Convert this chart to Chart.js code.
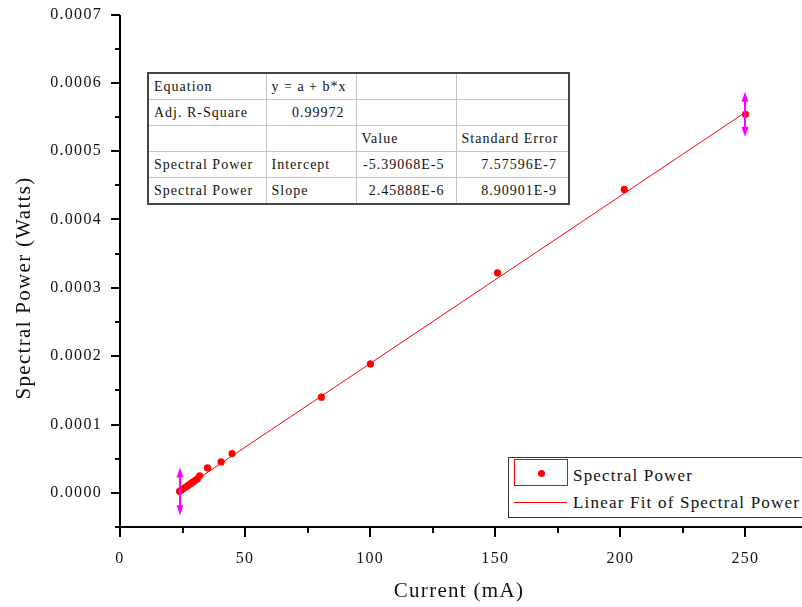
<!DOCTYPE html>
<html>
<head>
<meta charset="utf-8">
<script src="https://cdn.jsdelivr.net/npm/chart.js@4.4.0/dist/chart.umd.min.js"></script>
<style>
html,body{margin:0;padding:0;background:#fff;overflow:hidden;}
#wrap{position:relative;width:802px;height:607px;overflow:hidden;background:#fff;}
#chart{position:absolute;left:0;top:0;}
#fitTable{position:absolute;left:147px;top:72px;width:421px;table-layout:fixed;border-collapse:collapse;border:2px solid #444;font-family:'Liberation Serif',serif;font-size:14px;letter-spacing:1px;color:#111;background:#fff;}
#fitTable td{border:1px solid #c4c4c4;height:25px;padding:0 5px;white-space:nowrap;overflow:hidden;}
#fitTable td.r{text-align:right;padding-right:11px;}
#legend{position:absolute;left:508px;top:457px;width:310px;height:61px;box-sizing:border-box;border:1px solid #333;background:#fff;font-family:'Liberation Serif',serif;font-size:17px;letter-spacing:1.2px;color:#111;}
#legend .frame{position:absolute;left:5px;top:1px;width:54px;height:27px;box-sizing:border-box;border:1px solid #ff0000;}
#legend .dot{position:absolute;left:29px;top:12px;width:7px;height:7px;border-radius:50%;background:#ff0000;}
#legend .line{position:absolute;left:5px;top:44px;width:53px;height:1px;background:#ff0000;}
#legend .t1{position:absolute;left:64px;top:6px;line-height:24px;}
#legend .t2{position:absolute;left:64px;top:33px;line-height:24px;}
</style>
</head>
<body>
<div id="wrap">
<canvas id="chart" width="802" height="607"></canvas>
<table id="fitTable"><colgroup><col style="width:118px"><col style="width:90px"><col style="width:100px"><col style="width:113px"></colgroup><tbody id="tbody"></tbody></table>
<div id="legend"><div class="frame"></div><div class="dot"></div><div class="line"></div><div class="t1" id="lg1"></div><div class="t2" id="lg2"></div></div>
</div>
<script>
// ---- data ----
const seriesName = 'Spectral Power';
const fitName = 'Linear Fit of Spectral Power';
const xTitle = 'Current (mA)';
const yTitle = 'Spectral Power (Watts)';
const currentMA = [23.8, 24.6, 25.5, 26.4, 27.3, 28.2, 29.1, 30.0, 30.9, 31.8, 35.0, 40.4, 44.8, 80.5, 100.1, 150.9, 201.6, 250.0];
const powerW   = [2.2e-6, 4.3e-6, 6.6e-6, 8.9e-6, 1.11e-5, 1.34e-5, 1.57e-5, 1.80e-5, 2.03e-5, 2.50e-5, 3.64e-5, 4.52e-5, 5.75e-5, 1.40e-4, 1.886e-4, 3.22e-4, 4.44e-4, 5.54e-4];
const fitCurrent = [23.8, 250.0];
const fitPower   = [2.5e-6, 5.57e-4];
const errorIndex = [0, 17];
const errorHalf  = [3.5e-5, 3.3e-5];
const xMajorTicks = [0, 50, 100, 150, 200, 250];
const xTickLabels = ['0', '50', '100', '150', '200', '250'];
const xMinorTicks = [25, 75, 125, 175, 225];
const yMajorTicks = [0, 0.0001, 0.0002, 0.0003, 0.0004, 0.0005, 0.0006, 0.0007];
const yTickLabels = ['0.0000', '0.0001', '0.0002', '0.0003', '0.0004', '0.0005', '0.0006', '0.0007'];
const yMinorTicks = [-0.00005, 0.00005, 0.00015, 0.00025, 0.00035, 0.00045, 0.00055, 0.00065];
const tableRows = [
  [['Equation',''], ['y = a + b*x',''], ['',''], ['','']],
  [['Adj. R-Square',''], ['0.99972','r'], ['',''], ['','']],
  [['',''], ['',''], ['Value',''], ['Standard Error','']],
  [['Spectral Power',''], ['Intercept',''], ['-5.39068E-5','r'], ['7.57596E-7','r']],
  [['Spectral Power',''], ['Slope',''], ['2.45888E-6','r'], ['8.90901E-9','r']]
];

// ---- table & legend text ----
const tb = document.getElementById('tbody');
tableRows.forEach(row => {
  const tr = document.createElement('tr');
  row.forEach(([txt, cls]) => {
    const td = document.createElement('td');
    td.textContent = txt;
    if (cls) td.className = cls;
    tr.appendChild(td);
  });
  tb.appendChild(tr);
});
document.getElementById('lg1').textContent = seriesName;
document.getElementById('lg2').textContent = fitName;

const FONT = "'Liberation Serif', 'Times New Roman', serif";
const SPACING = '1.3px';

const axesPlugin = {
  id: 'axesPlugin',
  beforeLayout(chart) { chart.ctx.letterSpacing = SPACING; },
  beforeDraw(chart) { chart.ctx.letterSpacing = SPACING; },
  afterDatasetsDraw(chart) {
    const {ctx, scales: {x, y}} = chart;
    ctx.save();
    ctx.strokeStyle = '#ff00ff';
    ctx.fillStyle = '#ff00ff';
    ctx.lineWidth = 2;
    errorIndex.forEach((idx, k) => {
      const px = Math.round(x.getPixelForValue(currentMA[idx]));
      const pTop = y.getPixelForValue(powerW[idx] + errorHalf[k]);
      const pBot = y.getPixelForValue(powerW[idx] - errorHalf[k]);
      ctx.beginPath();
      ctx.moveTo(px, pTop + 4); ctx.lineTo(px, pBot - 4);
      ctx.stroke();
      ctx.beginPath();
      ctx.moveTo(px, pTop); ctx.lineTo(px - 3.5, pTop + 10); ctx.lineTo(px + 3.5, pTop + 10); ctx.closePath();
      ctx.moveTo(px, pBot); ctx.lineTo(px - 3.5, pBot - 10); ctx.lineTo(px + 3.5, pBot - 10); ctx.closePath();
      ctx.fill();
    });
    ctx.restore();
  },
  afterDraw(chart) {
    const {ctx, chartArea: a, scales: {x, y}} = chart;
    ctx.save();
    ctx.strokeStyle = '#000';
    ctx.lineWidth = 2;
    ctx.beginPath();
    const L = Math.round(a.left), B = Math.round(a.bottom);
    ctx.moveTo(L, Math.round(a.top)); ctx.lineTo(L, B + 1);
    ctx.moveTo(L - 1, B); ctx.lineTo(a.right + 8, B);
    yMajorTicks.forEach(v => { const p = Math.round(y.getPixelForValue(v)); ctx.moveTo(L - 9, p); ctx.lineTo(L, p); });
    yMinorTicks.forEach(v => { const p = Math.round(y.getPixelForValue(v)); ctx.moveTo(L - 5, p); ctx.lineTo(L, p); });
    xMajorTicks.forEach(v => { const p = Math.round(x.getPixelForValue(v)); ctx.moveTo(p, B); ctx.lineTo(p, B + 10); });
    xMinorTicks.forEach(v => { const p = Math.round(x.getPixelForValue(v)); ctx.moveTo(p, B); ctx.lineTo(p, B + 6); });
    ctx.stroke();
    // y axis title
    ctx.letterSpacing = SPACING;
    ctx.fillStyle = '#111';
    ctx.font = "21px " + FONT;
    ctx.textAlign = 'center';
    ctx.textBaseline = 'middle';
    ctx.translate(24, 288);
    ctx.rotate(-Math.PI / 2);
    ctx.fillText(yTitle, 0, 0);
    ctx.restore();
  }
};

new Chart(document.getElementById('chart'), {
  type: 'scatter',
  data: {
    datasets: [
      {
        type: 'line',
        label: fitName,
        data: fitCurrent.map((v, i) => ({x: v, y: fitPower[i]})),
        borderColor: '#ff0000',
        borderWidth: 1,
        pointRadius: 0,
        fill: false,
        order: 2
      },
      {
        label: seriesName,
        data: currentMA.map((v, i) => ({x: v, y: powerW[i]})),
        backgroundColor: '#ff0000',
        borderColor: '#ff0000',
        borderWidth: 0,
        pointRadius: 3.6,
        order: 1
      }
    ]
  },
  options: {
    responsive: false,
    animation: false,
    devicePixelRatio: 1,
    layout: {padding: {top: 14.5, right: 0, bottom: 0, left: 0}},
    plugins: {legend: {display: false}, tooltip: {enabled: false}},
    scales: {
      x: {
        type: 'linear',
        min: 0,
        max: 271,
        afterFit(s) { s.height = 80; s.paddingLeft = 0; s.paddingRight = 0; },
        afterBuildTicks(s) { s.ticks = xMajorTicks.map(v => ({value: v})); },
        ticks: {
          callback: (v, i) => xTickLabels[i],
          font: {family: FONT, size: 16},
          color: '#111',
          padding: 13,
          maxRotation: 0,
          autoSkip: false
        },
        grid: {display: true, drawOnChartArea: false, drawTicks: true, tickLength: 9, tickColor: 'rgba(0,0,0,0)'},
        border: {display: false},
        title: {display: true, text: xTitle, font: {family: FONT, size: 21}, color: '#111', padding: {top: 0, bottom: 3}}
      },
      y: {
        type: 'linear',
        min: -0.00005,
        max: 0.0007,
        afterFit(s) { s.width = 120; s.paddingTop = 0; s.paddingBottom = 0; },
        afterBuildTicks(s) { s.ticks = yMajorTicks.map(v => ({value: v})); },
        ticks: {
          callback: (v, i) => yTickLabels[i],
          font: {family: FONT, size: 16},
          color: '#111',
          padding: 9,
          autoSkip: false
        },
        grid: {display: true, drawOnChartArea: false, drawTicks: true, tickLength: 9, tickColor: 'rgba(0,0,0,0)'},
        border: {display: false},
        title: {display: false}
      }
    }
  },
  plugins: [axesPlugin]
});
</script>
</body>
</html>
